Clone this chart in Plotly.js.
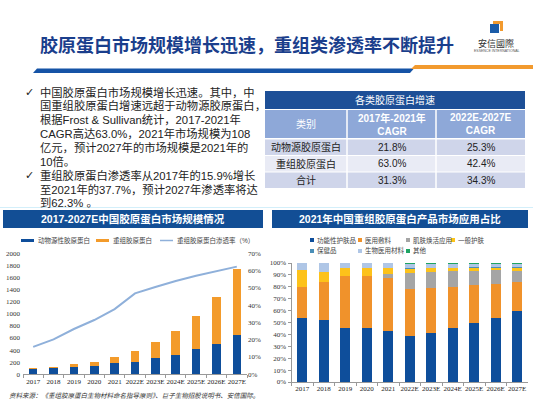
<!DOCTYPE html>
<html><head><meta charset="utf-8">
<script src="https://cdn.plot.ly/plotly-3.0.1.min.js"></script>
<style>html,body{margin:0;padding:0;background:#fff;overflow:hidden;} #chart{width:533px;height:400px;}</style>
</head><body><div id="chart"></div>
<script>
// ---------- DATA ----------
const years = ['2017','2018','2019','2020','2021','2022E','2023E','2024E','2025E','2026E','2027E'];
const animalCollagen = [81,99,122,143,179,208,264,325,413,507,650];
const recombinantCollagen = [15,25,43,65,108,183,270,391,546,771,1086];
const penetrationRate = [15.9,20.2,26.2,31.4,37.7,46.8,50.5,54.0,57.0,59.7,62.3];
const leftSeriesNames = ['动物源性胶原蛋白','重组胶原蛋白','重组胶原蛋白渗透率（%）'];

const appNames = ['功能性护肤品','医用敷料','肌肤焕活应用','一般护肤','保健品','生物医用材料','其他'];
const appFunctionalSkincare = [53.5,52.0,45.5,45.5,42.7,38.8,41.3,45.2,49.4,54.2,59.8];
const appMedicalDressing   = [26.5,32.0,43.3,43.5,44.9,39.2,37.9,34.8,32.1,28.4,24.2];
const appSkinRejuvenation  = [0,0,0,0,3.4,13.8,13.2,13.0,11.8,11.2,9.5];
const appGeneralSkincare   = [14.0,8.5,7.2,7.0,4.8,3.2,3.1,2.5,2.5,2.2,2.5];
const appHealthProducts    = [0,0,0,0,0,0.8,0.7,0.7,0.6,0.6,0.6];
const appBiomedMaterials   = [6.0,7.5,4.0,4.0,4.2,3.2,2.8,2.8,2.6,2.4,2.4];
const appOthers            = [0,0,0,0,0,1.0,1.0,1.0,1.0,1.0,1.0];

const tableTitle = '各类胶原蛋白增速';
const tableHeader = ['类别','<b>2017年-2021年</b><br><b>CAGR</b>','<b>2022E-2027E</b><br><b>CAGR</b>'];
const tableCategories = ['动物源胶原蛋白','重组胶原蛋白','合计'];
const cagr2017to2021 = ['21.8%','63.0%','31.3%'];
const cagr2022to2027 = ['25.3%','42.4%','34.3%'];

const pageTitle = '胶原蛋白市场规模增长迅速，重组类渗透率不断提升';
const bulletLines = [
  '中国胶原蛋白市场规模增长迅速。其中，中',
  '国重组胶原蛋白增速远超于动物源胶原蛋白，',
  '根据Frost & Sullivan统计，2017-2021年',
  'CAGR高达63.0%，2021年市场规模为108',
  '亿元，预计2027年的市场规模是2021年的',
  '10倍。',
  '重组胶原蛋白渗透率从2017年的15.9%增长',
  '至2021年的37.7%，预计2027年渗透率将达',
  '到62.3% 。'
];
const bulletStarts = [0, 6];
const leftChartTitle = '2017-2027E中国胶原蛋白市场规模情况';
const rightChartTitle = '2021年中国重组胶原蛋白产品市场应用占比';
const sourceText = '资料来源：《重组胶原蛋白生物材料命名指导原则》、巨子生物招股说明书、安信国际。';

// ---------- STYLE ----------
const W = 533, H = 400;
const px = x => x / W;
const py = y => 1 - y / H;
const CJK = 'Liberation Sans, Noto Sans CJK SC, sans-serif';
const SERIF = 'Liberation Serif, Noto Sans CJK SC, serif';
const cBlue = '#0E4E9B', cOrange = '#F39B2B', cLine = '#8FB0DA';
const appColors = ['#0E4E9B','#F0922B','#A5A5A5','#FDC21A','#4A8FB8','#AFC6E6','#1FA463'];
const navy = '#124E95';

function pathPx(points){
  return 'M ' + points.map(p => px(p[0]) + ' ' + py(p[1])).join(' L ') + ' Z';
}
function rectPx(x0,y0,x1,y1,color){
  return {type:'rect', xref:'paper', yref:'paper', x0:px(x0), x1:px(x1), y0:py(y1), y1:py(y0), fillcolor:color, line:{width:0}, layer:'below'};
}
function textPx(text,x,y,font,anchor){
  return {text:text, x:px(x), y:py(y), xref:'paper', yref:'paper', xanchor:anchor||'center', yanchor:'middle', showarrow:false, font:font};
}

// ---------- TRACES ----------
const traces = [
  {type:'bar', x:years, y:animalCollagen, name:leftSeriesNames[0], marker:{color:cBlue}, width:0.42, xaxis:'x', yaxis:'y', showlegend:false},
  {type:'bar', x:years, y:recombinantCollagen, name:leftSeriesNames[1], marker:{color:cOrange}, width:0.42, xaxis:'x', yaxis:'y', showlegend:false},
  {type:'scatter', mode:'lines', x:years, y:penetrationRate, name:leftSeriesNames[2], line:{color:cLine, width:2}, xaxis:'x', yaxis:'y2', showlegend:false}
];
const appSeries = [appFunctionalSkincare, appMedicalDressing, appSkinRejuvenation, appGeneralSkincare, appHealthProducts, appBiomedMaterials, appOthers];
appSeries.forEach((s,i) => traces.push({type:'bar', x:years, y:s, name:appNames[i], marker:{color:appColors[i]}, width:0.45, xaxis:'x2', yaxis:'y3', showlegend:false}));

// ---------- SHAPES & ANNOTATIONS ----------
const shapes = [
  {type:'path', xref:'paper', yref:'paper', path:pathPx([[33,73],[37,68.5],[414,68.5],[410,73]]), fillcolor:'#1553A6', line:{width:0}},
  {type:'path', xref:'paper', yref:'paper', path:pathPx([[411,69],[415,65],[533,65],[533,69]]), fillcolor:'#F29A2E', line:{width:0}},
  // logo
  {type:'rect', xref:'paper', yref:'paper', x0:px(490), x1:px(499), y0:py(33), y1:py(24), fillcolor:'#1B5CA8', line:{width:0}},
  {type:'path', xref:'paper', yref:'paper', path:pathPx([[493,21],[503,21],[503,31],[500,31],[500,24],[493,24]]), fillcolor:'#F29A2E', line:{width:0}},
  // thin cyan separator
  {type:'line', xref:'paper', yref:'paper', x0:0, x1:1, y0:py(207.5), y1:py(207.5), line:{color:'#D3EFFA', width:1}},
  // section headers
  rectPx(3,210,263,228,navy),
  rectPx(272,210,528,228,navy),
  // table title row
  rectPx(265,91,525,109,'#1D4F97')
];

const annotations = [
  textPx(pageTitle, 247, 44, {family:'Noto Sans CJK SC', size:18, color:'#1A3E8C', weight:700}),
  textPx('安信國際', 496, 43, {family:'Noto Sans CJK TC', size:9, color:'#333'}),
  textPx('ESSENCE INTERNATIONAL', 496, 51, {family:'Liberation Sans', size:3.5, color:'#555'}),
  textPx(tableTitle, 395, 100, {family:CJK, size:10, color:'#ffffff'}),
  textPx('<b>'+leftChartTitle+'</b>', 133, 219, {family:CJK, size:10.5, color:'#ffffff'}),
  textPx('<b>'+rightChartTitle+'</b>', 400, 219, {family:CJK, size:10.5, color:'#ffffff'}),
  textPx(sourceText, 7, 395, {family:CJK, size:6.5, color:'#333', style:'italic'}, 'left')
];

// table body (built from the table arrays)
const colEdges = [265, 347, 436, 525];
const headerTop = 110, headerBottom = 138;
const rowTops = [139.5, 156, 172.5], rowH = 15.5;
const rowFills = ['#CFD5EA','#E9EBF5','#CFD5EA'];
const tableCols = [tableCategories, cagr2017to2021, cagr2022to2027];
for (let c = 0; c < 3; c++) {
  const x0 = colEdges[c] + (c > 0 ? 0.75 : 0), x1 = colEdges[c+1] - (c < 2 ? 0.75 : 0);
  shapes.push(rectPx(x0, headerTop, x1, headerBottom, '#8EA8D8'));
  annotations.push(textPx(tableHeader[c], (colEdges[c]+colEdges[c+1])/2, (headerTop+headerBottom)/2, {family:CJK, size:10, color:'#ffffff'}));
  for (let r = 0; r < 3; r++) {
    shapes.push(rectPx(x0, rowTops[r], x1, rowTops[r]+rowH, rowFills[r]));
    annotations.push(textPx(tableCols[c][r], (colEdges[c]+colEdges[c+1])/2, rowTops[r]+rowH/2, {family:CJK, size:10, color:'#222'}));
  }
}

bulletLines.forEach((t,i) => {
  annotations.push(textPx(t, 38, 92 + i*13.9, {family:CJK, size:11.3, color:'#222'}, 'left'));
});
bulletStarts.forEach(i => {
  annotations.push(textPx('✓', 23, 92 + i*13.9, {family:'DejaVu Sans', size:11, color:'#222'}, 'left'));
});

// left custom legend
const leftLegendX = [21, 96, 160];
const leftLegendColors = [cBlue, cOrange, cLine];
const leftLegendWidths = [3, 3, 1.5];
leftSeriesNames.forEach((n,i) => {
  shapes.push({type:'line', xref:'paper', yref:'paper', x0:px(leftLegendX[i]), x1:px(leftLegendX[i]+13), y0:py(240.5), y1:py(240.5), line:{color:leftLegendColors[i], width:leftLegendWidths[i]}});
  annotations.push(textPx(n, leftLegendX[i]+15, 240.5, {family:CJK, size:6.5, color:'#444'}, 'left'));
});
// right custom legend
const rightLegendPos = [[310,240],[358,240],[406,240],[451,240],[310,251],[358,251],[406,251]];
appNames.forEach((n,i) => {
  const [lx,ly] = rightLegendPos[i];
  shapes.push({type:'rect', xref:'paper', yref:'paper', x0:px(lx), x1:px(lx+4), y0:py(ly+2), y1:py(ly-2), fillcolor:appColors[i], line:{width:0}});
  annotations.push(textPx(n, lx+5, ly, {family:CJK, size:6.5, color:'#444'}, 'left'));
});

// ---------- LAYOUT ----------
const tickFont = {family:SERIF, size:7, color:'#222'};
const layout = {
  width:W, height:H, margin:{l:0,r:0,t:0,b:0}, paper_bgcolor:'#ffffff', plot_bgcolor:'rgba(0,0,0,0)',
  barmode:'stack', showlegend:false,
  xaxis:{domain:[px(23), px(247)], anchor:'y', type:'category', showline:true, linecolor:'#999', linewidth:1, tickangle:0,
         ticks:'outside', tickson:'boundaries', ticklen:3, tickcolor:'#999', tickfont:tickFont},
  yaxis:{domain:[py(374.3), py(253.3)], range:[0,2000], dtick:200, showgrid:false, zeroline:false, showline:false,
         tickfont:{family:SERIF, size:7, color:'#333'}, ticklabelstandoff:2},
  yaxis2:{overlaying:'y', side:'right', anchor:'x', range:[0,70], dtick:10, ticksuffix:'%', showgrid:false, zeroline:false,
          showline:false, tickfont:{family:SERIF, size:7, color:'#333'}},
  xaxis2:{domain:[px(291.5), px(528)], anchor:'y3', type:'category', showline:true, linecolor:'#999', linewidth:1, tickangle:0,
          ticks:'outside', tickson:'boundaries', ticklen:3, tickcolor:'#999', tickfont:tickFont},
  yaxis3:{domain:[py(382), py(263)], anchor:'x2', range:[0,100], dtick:10, ticksuffix:'%', showgrid:false, zeroline:false,
          showline:true, linecolor:'#999', ticks:'outside', ticklen:3, tickcolor:'#999',
          tickfont:{family:SERIF, size:7, color:'#333'}},
  shapes:shapes, annotations:annotations
};

Plotly.newPlot('chart', traces, layout, {staticPlot:true, displayModeBar:false});
</script></body></html>
